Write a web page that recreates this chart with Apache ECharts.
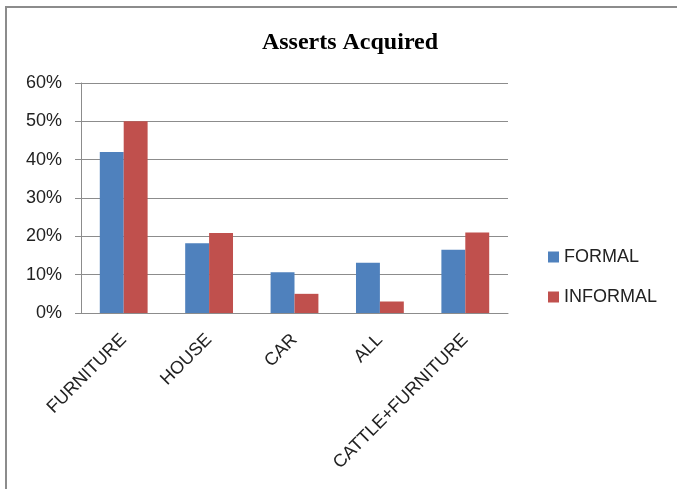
<!DOCTYPE html>
<html>
<head>
<meta charset="utf-8">
<script src="https://cdn.jsdelivr.net/npm/echarts@6/dist/echarts.min.js"></script>
<style>
  html, body { margin: 0; padding: 0; background: #fff; }
  .frame {
    position: absolute;
    left: 5px;
    top: 6px;
    width: 700px;
    height: 500px;
    border-left: 2px solid #8c8c8c;
    border-top: 2px solid #8c8c8c;
  }
  #chart { position: absolute; left: 0; top: 0; width: 677px; height: 489px; }
</style>
</head>
<body>
<div class="frame"></div>
<div id="chart"></div>
<script>
const categories = ['FURNITURE', 'HOUSE', 'CAR', 'ALL', 'CATTLE+FURNITURE']
const formal = [42, 18.2, 10.6, 13.1, 16.5]
const informal = [50, 20.9, 5, 3, 21]
const yTicks = [0, 10, 20, 30, 40, 50, 60]

const chart = echarts.init(document.getElementById('chart'))

const option = {
  animation: false,
  title: {
    text: 'Asserts Acquired',
    left: 345,
    top: 26,
    textAlign: 'center',
    textStyle: {
      fontFamily: 'Liberation Serif',
      fontWeight: 'bold',
      fontSize: 24,
      color: '#000'
    }
  },
  legend: {
    orient: 'vertical',
    left: 543,
    top: 243,
    itemWidth: 11,
    itemHeight: 11,
    itemGap: 22,
    icon: 'rect',
    textStyle: { fontFamily: 'Liberation Sans', fontSize: 18, color: '#222' }
  },
  grid: {
    left: 81,
    right: 169,
    top: 83,
    bottom: 176
  },
  xAxis: {
    type: 'category',
    data: categories,
    axisLine: { lineStyle: { color: '#8c8c8c' } },
    axisTick: { alignWithLabel: false, length: 6, lineStyle: { color: '#8c8c8c' } },
    axisLabel: {
      rotate: 45,
      margin: 24,
      fontFamily: 'Liberation Sans',
      fontSize: 18,
      color: '#222'
    }
  },
  yAxis: {
    type: 'value',
    min: yTicks[0],
    max: yTicks[yTicks.length - 1],
    interval: 10,
    axisLine: { show: true, lineStyle: { color: '#8c8c8c' } },
    axisTick: { show: true, length: 6, lineStyle: { color: '#8c8c8c' } },
    splitLine: { lineStyle: { color: '#8c8c8c' } },
    axisLabel: {
      formatter: '{value}%',
      margin: 19,
      fontFamily: 'Liberation Sans',
      fontSize: 18,
      color: '#222'
    }
  },
  series: [
    {
      name: 'FORMAL',
      type: 'bar',
      data: formal,
      barGap: '0%',
      barCategoryGap: '44%',
      itemStyle: { color: '#4f81bd' }
    },
    {
      name: 'INFORMAL',
      type: 'bar',
      data: informal,
      itemStyle: { color: '#c0504d' }
    }
  ]
}

chart.setOption(option)
</script>
</body>
</html>
